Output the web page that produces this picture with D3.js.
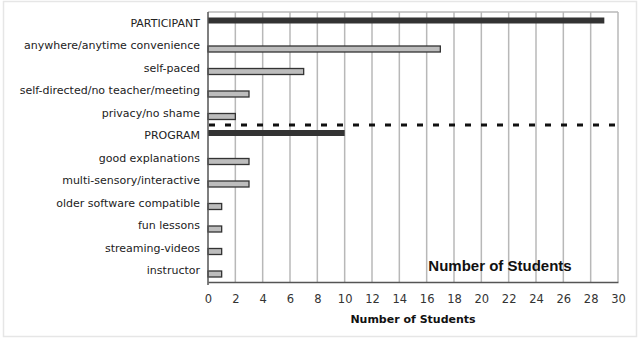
<!DOCTYPE html>
<html><head><meta charset="utf-8">
<script src="https://cdn.jsdelivr.net/npm/d3@7"></script>
<style>html,body{margin:0;padding:0;background:#fff;}</style>
</head><body>
<svg id="chart" width="639" height="339"></svg>
<script>
const categories = ["PARTICIPANT","anywhere/anytime convenience","self-paced","self-directed/no teacher/meeting","privacy/no shame","PROGRAM","good explanations","multi-sensory/interactive","older software compatible","fun lessons","streaming-videos","instructor"];
const values = [29,17,7,3,2,10,3,3,1,1,1,1];
const isHeader = [true,false,false,false,false,true,false,false,false,false,false,false];
const xTicks = d3.range(0,31,2);
const axisTitle = "Number of Students";
const innerTitle = "Number of Students";

(function(){
const svg = d3.select("#chart");
const pL = 208, pR = 618, pT = 12, pB = 282;
const x = d3.scaleLinear().domain([0,30]).range([pL,pR]);
const y = d3.scaleBand().domain(categories).range([15.25,285.25]);
const cy = d => y(d) + y.bandwidth()/2;

svg.append("rect").attr("x",3.5).attr("y",1.5).attr("width",633).attr("height",335)
  .attr("fill","none").attr("stroke","#e6e6e6").attr("stroke-width",1.5);

svg.append("g").selectAll("line").data(xTicks.slice(1)).join("line")
  .attr("x1",d=>x(d)).attr("x2",d=>x(d)).attr("y1",pT).attr("y2",pB)
  .attr("stroke","#b8b8b8").attr("stroke-width",1.5);
svg.append("line").attr("x1",pL).attr("x2",pR).attr("y1",pT).attr("y2",pT)
  .attr("stroke","#b8b8b8").attr("stroke-width",1.5);

svg.append("g").selectAll("rect").data(categories).join("rect")
  .attr("x",x(0))
  .attr("y",(d,i)=>cy(d)-3-(isHeader[i]?6:0))
  .attr("width",(d,i)=>x(values[i])-x(0))
  .attr("height",6)
  .attr("fill",(d,i)=>isHeader[i]?"#333":"#bdbdbd")
  .attr("stroke","#333").attr("stroke-width",(d,i)=>isHeader[i]?0:1.3);

const sepY = cy(categories[5]) - 14;
svg.append("line").attr("x1",pL+1).attr("x2",pR).attr("y1",sepY).attr("y2",sepY)
  .attr("stroke","#111").attr("stroke-width",3).attr("stroke-dasharray","6,10");

svg.append("line").attr("x1",pL).attr("x2",pL).attr("y1",pT).attr("y2",pB+3)
  .attr("stroke","#555").attr("stroke-width",1.5);
const xAxis = svg.append("g").attr("transform",`translate(0,${pB})`)
  .call(d3.axisBottom(x).tickValues(xTicks).tickSize(0).tickPadding(13));
xAxis.select(".domain").attr("stroke","#555").attr("stroke-width",1.5);
xAxis.selectAll("text").attr("font-family","DejaVu Sans").attr("font-size",11.5).attr("fill","#333");

svg.append("g").selectAll("text").data(categories).join("text")
  .attr("x",pL-8).attr("y",d=>cy(d)-3)
  .attr("text-anchor","end").attr("dominant-baseline","middle")
  .attr("font-family","DejaVu Sans").attr("font-size",11).attr("fill","#222")
  .text(d=>d);

svg.append("text").attr("x",(pL+pR)/2).attr("y",323)
  .attr("text-anchor","middle").attr("font-family","DejaVu Sans").attr("font-weight","bold")
  .attr("font-size",11).attr("fill","#111").text(axisTitle);

svg.append("text").attr("x",500).attr("y",271)
  .attr("text-anchor","middle").attr("font-family","Liberation Sans").attr("font-weight","bold")
  .attr("font-size",15).attr("fill","#111").text(innerTitle);
})();
</script>
</body></html>
